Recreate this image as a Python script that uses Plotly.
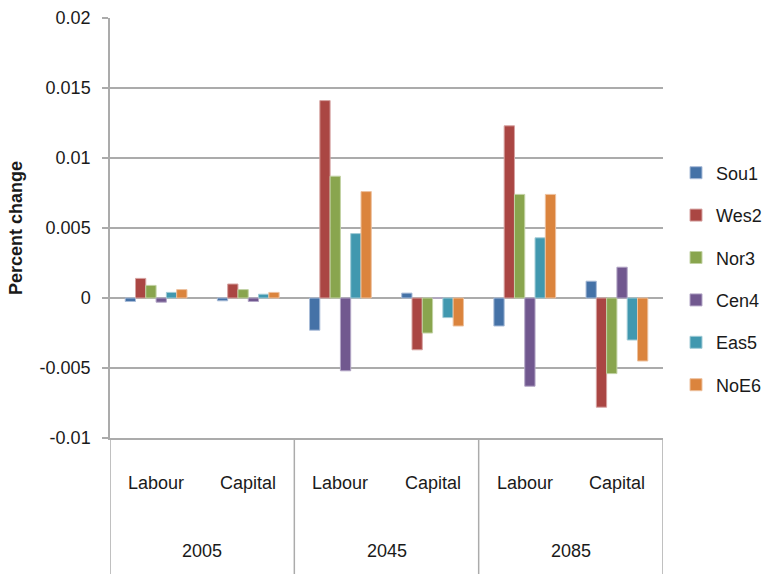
import plotly.graph_objects as go

years = ["2005", "2045", "2085"]
factors = ["Labour", "Capital"]
regions = ["Sou1", "Wes2", "Nor3", "Cen4", "Eas5", "NoE6"]

sou1 = [-0.00025, -0.0002, -0.0023, 0.00035, -0.0020, 0.0012]
wes2 = [0.0014, 0.0010, 0.0141, -0.0037, 0.0123, -0.0078]
nor3 = [0.0009, 0.0006, 0.0087, -0.0025, 0.0074, -0.0054]
cen4 = [-0.0003, -0.00025, -0.0052, 0.0, -0.0063, 0.0022]
eas5 = [0.0004, 0.00027, 0.0046, -0.0014, 0.0043, -0.0030]
noe6 = [0.0006, 0.0004, 0.0076, -0.0020, 0.0074, -0.0045]
series = [sou1, wes2, nor3, cen4, eas5, noe6]

y_ticks = [-0.01, -0.005, 0, 0.005, 0.01, 0.015, 0.02]
y_ticktext = ["-0.01", "-0.005", "0", "0.005", "0.01", "0.015", "0.02"]

colors = ["#4572A7", "#AA4643", "#89A54E", "#71588F", "#4198AF", "#DB843D"]
edge = ["#a9bcd8", "#d6a3a2", "#c2d2a4", "#b3a6c6", "#a0cbd6", "#edc19e"]

categories = [f"{y} {f}" for y in years for f in factors]
GRID = "#ababab"
FONT = "Liberation Sans, Arial, sans-serif"
TXT = "#1a1a1a"

fig = go.Figure()
for name, vals, c, e in zip(regions, series, colors, edge):
    fig.add_trace(go.Bar(
        x=categories, y=vals, name=name, legendgroup=name,
        marker=dict(color=c, line=dict(color=e, width=1)),
    ))

annotations = []
for i, cat in enumerate(categories):
    annotations.append(dict(x=cat, xref="x", y=-0.107, yref="paper",
                            text=factors[i % 2], showarrow=False,
                            xanchor="center", yanchor="middle",
                            font=dict(size=18, color=TXT, family=FONT)))
for j, yr in enumerate(years):
    annotations.append(dict(x=2 * j + 0.5, xref="x", y=-0.269, yref="paper",
                            text=yr, showarrow=False,
                            xanchor="center", yanchor="middle",
                            font=dict(size=18, color=TXT, family=FONT)))
annotations.append(dict(x=-0.17, xref="paper", y=0.5, yref="paper",
                        text="<b>Percent change</b>", textangle=-90,
                        showarrow=False, xanchor="center", yanchor="middle",
                        font=dict(size=18, color=TXT, family=FONT)))

shapes = []
for j in range(len(years) + 1):
    shapes.append(dict(type="line", xref="x", yref="paper",
                       x0=2 * j - 0.5, x1=2 * j - 0.5, y0=0, y1=-0.34,
                       line=dict(color=GRID, width=1.5)))

fig.update_layout(
    width=762, height=574,
    margin=dict(l=110, r=99, t=18, b=136, autoexpand=False),
    paper_bgcolor="white", plot_bgcolor="white",
    barmode="group", bargap=0.33, bargroupgap=0,
    font=dict(family=FONT, size=18, color=TXT),
    showlegend=True,
    legend=dict(xref="container", yref="container",
                x=676 / 762, xanchor="left", y=1 - 279 / 574, yanchor="middle",
                traceorder="grouped", tracegroupgap=16,
                font=dict(size=18, color=TXT, family=FONT),
                bgcolor="rgba(0,0,0,0)"),
    annotations=annotations,
    shapes=shapes,
)
fig.update_xaxes(type="category", range=[-0.5, 5.5], showticklabels=False,
                 showgrid=False, ticks="", showline=True,
                 linecolor=GRID, linewidth=1.5, zeroline=False)
fig.update_yaxes(range=[-0.01, 0.02], tickvals=y_ticks, ticktext=y_ticktext,
                 showgrid=True, gridcolor=GRID, gridwidth=1.5,
                 zeroline=False, showline=True, linecolor=GRID, linewidth=1.5,
                 ticks="outside", ticklen=6, tickcolor=GRID, tickwidth=1.5,
                 ticklabelstandoff=8,
                 tickfont=dict(size=18, color=TXT, family=FONT))

fig.write_html("out.html")
